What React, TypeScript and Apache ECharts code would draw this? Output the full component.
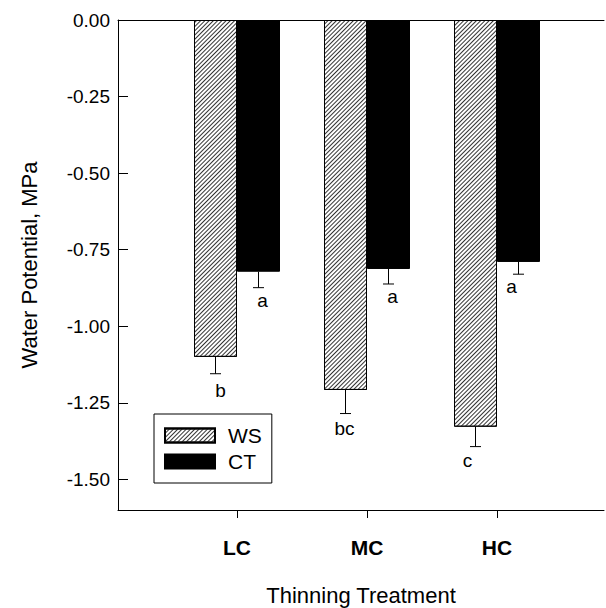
import React, { useEffect, useRef } from "react";
import * as echarts from "echarts";

// ---- data ----
const categories = ["LC", "MC", "HC"];
const categoryX = [1, 2, 3];
const wsValues = [-1.1, -1.208, -1.328];
const ctValues = [-0.822, -0.813, -0.79];
const wsErrEnd = [-1.155, -1.285, -1.393];
const ctErrEnd = [-0.874, -0.862, -0.83];
const wsLetters = ["b", "bc", "c"];
const ctLetters = ["a", "a", "a"];
const yTicks = [0, -0.25, -0.5, -0.75, -1.0, -1.25, -1.5];

// ---- layout tweaks (pixels, not data) ----
const wsLetterDx = [5, -1, -8];
const ctLetterDx = [4, 4, -7];
const wsLetterDy = [7, 5, 4];
const ctLetterDy = [3, 3, 3];
const FONT = "'Liberation Sans', Arial, Helvetica, sans-serif";
const BAR_W = 43;

export default function App() {
  const ref = useRef<HTMLDivElement>(null);
  useEffect(() => {
    if (!ref.current) return;
    const chart = echarts.init(ref.current, null, { renderer: "svg" });

    const errData: any[] = [];
    categoryX.forEach((x, i) => {
      errData.push([x, wsValues[i], wsErrEnd[i], -1, wsLetters[i], wsLetterDx[i], wsLetterDy[i]]);
      errData.push([x, ctValues[i], ctErrEnd[i], 1, ctLetters[i], ctLetterDx[i], ctLetterDy[i]]);
    });

    const xMin = 1 - 119 / 130;
    const xMax = 3 + 107 / 130;

    const option: any = {
      animation: false,
      backgroundColor: "#fff",
      grid: { left: 118, right: 2, top: 20, bottom: 98, containLabel: false, outerBoundsMode: "none" },
      xAxis: [
        {
          type: "value",
          min: xMin,
          max: xMax,
          name: "Thinning Treatment",
          nameLocation: "middle",
          nameGap: 74,
          nameTextStyle: { fontFamily: FONT, fontSize: 22, color: "#000" },
          axisLine: { show: true, onZero: false, lineStyle: { color: "#000", width: 1 } },
          axisTick: { show: true, inside: false, length: 8, customValues: categoryX, lineStyle: { color: "#000" } },
          axisLabel: {
            customValues: categoryX,
            margin: 27,
            fontFamily: FONT,
            fontSize: 21,
            fontWeight: "bold",
            color: "#000",
            formatter: (v: number) => categories[Math.round(v) - 1] ?? "",
          },
          splitLine: { show: false },
        },
        {
          type: "value",
          position: "top",
          min: xMin,
          max: xMax,
          axisLine: { show: true, onZero: false, lineStyle: { color: "#000", width: 1 } },
          axisTick: { show: false },
          axisLabel: { show: false },
          splitLine: { show: false },
        },
      ],
      yAxis: {
        type: "value",
        min: -1.6,
        max: 0,
        name: "Water Potential, MPa",
        nameLocation: "middle",
        nameGap: 78,
        nameTextStyle: { fontFamily: FONT, fontSize: 22, color: "#000" },
        axisLine: { show: true, onZero: false, lineStyle: { color: "#000", width: 1 } },
        axisTick: { show: true, inside: true, length: 10, customValues: yTicks, lineStyle: { color: "#000" } },
        axisLabel: {
          customValues: yTicks,
          margin: 8,
          fontFamily: FONT,
          fontSize: 19,
          color: "#000",
          formatter: (v: number) => (Math.abs(v) < 1e-9 ? "0.00" : v.toFixed(2)),
        },
        splitLine: { show: false },
      },
      legend: {
        orient: "vertical",
        left: 154,
        top: 414,
        itemWidth: 50,
        itemHeight: 14,
        itemGap: 5,
        padding: [11, 10, 11, 10],
        borderColor: "#000",
        borderWidth: 1,
        icon: "rect",
        textStyle: { fontFamily: FONT, fontSize: 21, color: "#000", padding: [0, 0, 0, 8] },
        data: ["WS", "CT"],
      },
      series: [
        {
          name: "WS",
          type: "bar",
          barWidth: BAR_W,
          barGap: "0%",
          data: categoryX.map((x, i) => [x, wsValues[i]]),
          itemStyle: {
            color: "#ffffff",
            borderColor: "#000",
            borderWidth: 1,
            decal: {
              symbol: "rect",
              symbolSize: 1,
              dashArrayX: [1, 0],
              dashArrayY: [1, 1.6],
              rotation: -Math.PI / 4,
              color: "#333",
              backgroundColor: "#e4e4e4",
            },
          },
        },
        {
          name: "CT",
          type: "bar",
          barWidth: BAR_W,
          barGap: "0%",
          data: categoryX.map((x, i) => [x, ctValues[i]]),
          itemStyle: { color: "#000", borderColor: "#000", borderWidth: 1 },
        },
        {
          name: "err",
          type: "custom",
          z: 5,
          data: errData,
          renderItem: (params: any, api: any) => {
            const x = api.value(0);
            const v = api.value(1);
            const e = api.value(2);
            const side = api.value(3);
            const letter = errData[params.dataIndex][4];
            const dx = errData[params.dataIndex][5];
            const dy = errData[params.dataIndex][6];
            const p0 = api.coord([x, v]);
            const p1 = api.coord([x, e]);
            const cx = p0[0] + (side * BAR_W) / 2;
            return {
              type: "group",
              children: [
                {
                  type: "line",
                  shape: { x1: cx, y1: p0[1], x2: cx, y2: p1[1] },
                  style: { stroke: "#000", lineWidth: 1 },
                },
                {
                  type: "line",
                  shape: { x1: cx - 5.5, y1: p1[1], x2: cx + 5.5, y2: p1[1] },
                  style: { stroke: "#000", lineWidth: 1 },
                },
                {
                  type: "text",
                  x: cx + dx,
                  y: p1[1] + dy,
                  style: {
                    text: letter,
                    fill: "#000",
                    font: `19px ${FONT}`,
                    align: "center",
                    verticalAlign: "top",
                  },
                },
              ],
            };
          },
        },
      ],
    };
    chart.setOption(option);
    return () => chart.dispose();
  }, []);
  return (
    <div
      ref={ref}
      style={{ position: "absolute", left: 0, top: 0, width: 606, height: 608 }}
    />
  );
}
